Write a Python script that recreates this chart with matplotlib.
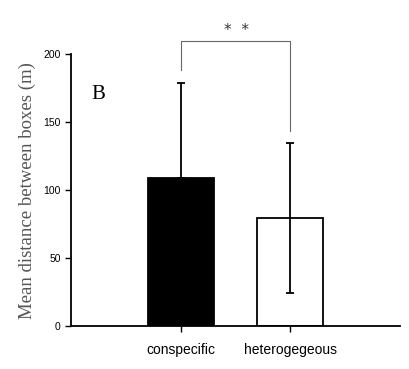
import numpy as np
import matplotlib.pyplot as plt

# datos
grupos = ['conspecific', 'heterogegeous']
medias = [108.7, 79.7]
err_sup = [70.3, 55.2]
err_inf = [0, 55.7]
y_ticks = [0, 50, 100, 150, 200]

x = np.arange(len(grupos))

fig = plt.figure(figsize=(4.09, 3.69), dpi=100)
ax = fig.add_axes([0.1736, 0.1165, 0.8044, 0.7366])

ax.bar(x, medias, width=0.6, color=['black', 'white'], edgecolor='black', linewidth=1.3, zorder=2)
ax.errorbar(x, medias, yerr=[err_inf, err_sup], fmt='none', ecolor='black',
            elinewidth=1.3, capsize=3, capthick=1.3, zorder=3)

# corchete de significancia
ax.plot([0, 0, 1, 1], [188.4, 209.7, 209.7, 143.5], color='#666666', lw=0.8, clip_on=False)
ax.text(0.51, 212, '*  *', ha='center', va='bottom', fontsize=11, color='#333333')

ax.text(-0.81, 170, 'B', fontsize=15, family='Liberation Serif', ha='left', va='center')

ax.set_xlim(-1, 2)
ax.set_ylim(0, 200)
ax.set_xticks(x)
ax.set_xticklabels(grupos, fontsize=10, family='Liberation Sans')
ax.set_yticks(y_ticks)
ax.set_yticklabels([str(t) for t in y_ticks], fontsize=7.5, family='Liberation Sans')
ax.tick_params(axis='both', direction='out', length=4, width=1)
ax.tick_params(axis='x', pad=8)

ax.spines['top'].set_visible(False)
ax.spines['right'].set_visible(False)
ax.spines['left'].set_linewidth(1.3)
ax.spines['bottom'].set_linewidth(1.3)

ax.set_ylabel('Mean distance between boxes (m)', fontsize=13.5, family='Liberation Serif',
              color='#555555', labelpad=5)

fig.savefig('out.png', dpi=100)
